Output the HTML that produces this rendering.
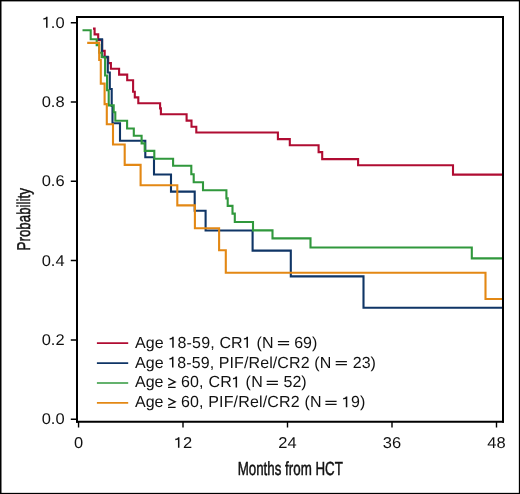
<!DOCTYPE html>
<html>
<head>
<meta charset="utf-8">
<style>
html,body{margin:0;padding:0;background:#fff;}
body{width:520px;height:494px;overflow:hidden;}
svg{display:block;will-change:transform;}
text{text-rendering:geometricPrecision;font-family:"Liberation Sans",sans-serif;fill:#111;}
.tk{font-size:16px;}
.lg{font-size:16px;}
.ti{font-size:19px;stroke:#111;stroke-width:0.5px;}
</style>
</head>
<body>
<svg width="520" height="494" viewBox="0 0 520 494">
<rect x="0" y="0" width="520" height="494" fill="#fff"/>
<!-- outer border -->
<g fill="#000"><rect x="0" y="0" width="1.5" height="494"/><rect x="0" y="0" width="520" height="1.4"/><rect x="518.85" y="0" width="1.15" height="494"/><rect x="0" y="492.85" width="520" height="1.15"/></g>

<!-- curves -->
<g fill="none" stroke-width="2.1" stroke-linejoin="miter" stroke-linecap="butt">
<path id="red" stroke="#b00c32" d="M93,28.6 H94.6 V34.4 H98.2 V40.1 H102.1 V50.9 H104.7 V57.4 H108.2 V63.1 H110.9 V68.7 H119.1 V74.6 H127.2 V80.2 H133.1 V91.8 H134.8 V97.4 H138.3 V103.2 H160.1 V108.4 H160.9 V114.3 H186.6 V120.6 H191.5 V126.7 H196.3 V132.5 H277.9 V139.1 H289.8 V145.3 H318.6 V152.1 H322.2 V159.1 H358.1 V165.3 H453 V174.6 H502"/>
<path id="blue" stroke="#0f3566" d="M98.3,39.3 H102.1 V56.7 H107.8 V72.5 H109.8 V89 H111.7 V106 H112.5 V123.2 H120 V140.8 H145.3 V157.3 H154 V174.5 H171 V191.6 H194.7 V210.8 H205.6 V230.5 H252.6 V250.6 H290.8 V276.4 H363.5 V307.7 H502"/>
<path id="green" stroke="#30983c" d="M82.5,30.3 H90.7 V39.2 H96.7 V45.1 H99.2 V52.7 H101.7 V57.2 H105.1 V75.5 H107.1 V90.2 H108.7 V105.4 H113.7 V112.3 H115.3 V120.7 H127.1 V128.5 H133.8 V135.8 H141.6 V143.4 H144.7 V150.9 H154.3 V158.8 H173.1 V165.8 H191.3 V174.2 H193.7 V182.2 H203 V190.2 H226.4 V198.4 H227.7 V205.9 H232.5 V213.6 H234.8 V222.0 H253 V230.4 H272.5 V238.4 H310.5 V247.5 H471.8 V258.4 H502"/>
<path id="orange" stroke="#e38814" d="M87.2,42.9 H99.2 V60 H100.8 V83.6 H104.6 V104.1 H106.8 V124.3 H113 V144.5 H124.7 V164.9 H140.6 V185.3 H177.3 V205.4 H194.9 V228.2 H219.1 V250.2 H225.8 V272.8 H485.5 V299 H502"/>
</g>

<!-- frame -->
<g stroke="#000" fill="none">
<path d="M77,16 V422.7" stroke-width="2"/>
<path d="M503,16 V422.7" stroke-width="2"/>
<path d="M76,17 H504" stroke-width="2"/>
<path d="M76,421.7 H504" stroke-width="2"/>
</g>
<!-- y ticks -->
<g stroke="#000" stroke-width="1.5">
<path d="M70.8,22.7 H76 M70.8,102 H76 M70.8,181.3 H76 M70.8,260.6 H76 M70.8,340 H76 M70.8,419.3 H76"/>
</g>
<!-- x ticks -->
<g stroke="#000" stroke-width="1.4">
<path d="M78.56,422 V427.6 M183,422 V427.6 M287.5,422 V427.6 M392,422 V427.6 M496.5,422 V427.6"/>
</g>

<!-- y tick labels -->
<g class="tk">
<text text-anchor="end" transform="translate(64.6,27.7) scale(1.03,0.97)">.0</text>
<text text-anchor="end" transform="translate(64.6,107) scale(1.03,0.97)">0.8</text>
<text text-anchor="end" transform="translate(64.6,186.3) scale(1.03,0.97)">0.6</text>
<text text-anchor="end" transform="translate(64.6,265.6) scale(1.03,0.97)">0.4</text>
<text text-anchor="end" transform="translate(64.6,345) scale(1.03,0.97)">0.2</text>
<text text-anchor="end" transform="translate(64.6,424.3) scale(1.03,0.97)">0.0</text>
</g>
<!-- x tick labels -->
<g class="tk">
<text text-anchor="middle" transform="translate(78.56,447.7) scale(1.03,0.98)">0</text>
<text text-anchor="start" transform="translate(183,447.7) scale(1.03,0.98)">2</text>
<text text-anchor="middle" transform="translate(287.5,447.7) scale(1.03,0.98)">24</text>
<text text-anchor="middle" transform="translate(392,447.7) scale(1.03,0.98)">36</text>
<text text-anchor="middle" transform="translate(496.5,447.7) scale(1.03,0.98)">48</text>
</g>
<g fill="none" stroke="#111" stroke-width="1.5">
<path d="M46.8,16.8 V27.7 M46.8,17.3 Q46.2,18.9 43.4,19.1"/>
<path d="M178.7,437.2 V447.7 M178.7,437.7 Q178.1,439.3 175.3,439.5"/>
<path d="M172.97,336.8 V347.7 M172.97,337.3 Q172.37,338.9 169.62,339.1 M247.26,336.8 V347.7 M247.26,337.3 Q246.66,338.9 243.91,339.1 M172.75,356.7 V367.6 M172.75,357.2 Q172.15,358.8 169.40,359.0 M236.33,376.5 V387.4 M236.33,377.0 Q235.73,378.6 232.98,378.8 M346.55,396.4 V407.3 M346.55,396.9 Q345.95,398.5 343.20,398.7"/>
</g>

<!-- axis titles -->
<text class="ti" text-anchor="middle" transform="translate(290.25,474.6) scale(0.702,1)">Months from HCT</text>
<text class="ti" text-anchor="middle" transform="translate(30.0,219.3) rotate(-90) scale(0.72,1)" style="font-size:18.5px">Probability</text>

<!-- legend -->
<g stroke-width="1.7">
<path d="M96.9,343.1 H128.2" stroke="#b00c32"/>
<path d="M96.9,363.1 H128.2" stroke="#0f3566"/>
<path d="M96.9,383 H128.2" stroke="#30983c"/>
<path d="M96.9,402.9 H128.2" stroke="#e38814"/>
</g>
<g class="lg">
<text x="135" y="347.7" textLength="138.5" lengthAdjust="spacing">Age &#x2007;8-59, CR&#x2007; (N</text>
<text x="294.2" y="347.7">69)</text>
<text x="135" y="367.6" textLength="196.2" lengthAdjust="spacing">Age &#x2007;8-59, PIF/Rel/CR2 (N</text>
<text x="352.8" y="367.6">23)</text>
<text x="180.9" y="387.4" textLength="81.8" lengthAdjust="spacing">60, CR&#x2007; (N</text>
<text x="283.5" y="387.4">52)</text>
<text x="180.9" y="407.3" textLength="140.6" lengthAdjust="spacing">60, PIF/Rel/CR2 (N</text>
<text x="342.1" y="407.3">&#x2007;9)</text>
<text x="135" y="387.4">Age</text>
<text x="135" y="407.3">Age</text>
</g>
<g fill="none" stroke="#111" stroke-width="1.3">
<path d="M168.2,378.4 L175.2,381.9 L168.2,385.4 M168,387.4 H175.6"/>
<path d="M168.2,398.3 L175.2,401.8 L168.2,405.3 M168,407.3 H175.6"/>
</g>
<g fill="none" stroke="#111" stroke-width="1.2">
<path d="M277.9,341.7 H289.1 M277.9,344.7 H289.1 M335.7,361.6 H346.9 M335.7,364.6 H346.9 M266.7,381.4 H277.9 M266.7,384.4 H277.9 M325.4,401.3 H336.6 M325.4,404.3 H336.6"/>
</g>
</svg>
</body>
</html>
